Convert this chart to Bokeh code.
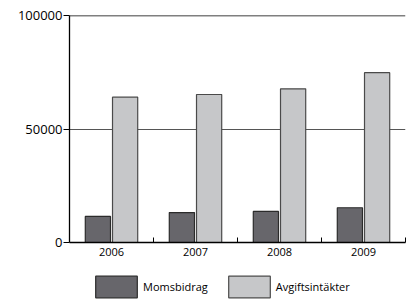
from bokeh.plotting import figure
from bokeh.models import (ColumnDataSource, FixedTicker, Span, Legend, LegendItem,
                          CustomJSTickFormatter)
from bokeh.layouts import column
from bokeh.embed import file_html
from bokeh.resources import INLINE

years = ["2006", "2007", "2008", "2009"]
momsbidrag = [11500, 13200, 13700, 15300]
avgiftsintakter = [64000, 65200, 67700, 74800]
y_ticks = [0, 50000, 100000]
series_names = ["Momsbidrag", "Avgiftsintäkter"]

DARK, LIGHT = "#67666b", "#c6c7c9"
EDGE1, EDGE2 = "#2b2b2b", "#4a4a4a"

x_pos = [i + 0.5 for i in range(len(years))]
bw = 0.30
gap = 0.012
src = ColumnDataSource(dict(
    x1=[x - bw / 2 - gap for x in x_pos],
    x2=[x + bw / 2 + gap for x in x_pos],
    m=momsbidrag, a=avgiftsintakter))

FONT = "Open Sans"
p = figure(width=411, height=262, output_backend="svg", toolbar_location=None,
           x_range=(0, len(years)), y_range=(0, 100000),
           min_border_left=69, min_border_right=6, min_border_top=15,
           min_border_bottom=20)
p.outline_line_color = None
p.background_fill_color = "white"

p.vbar(x="x1", width=bw, top="m", source=src, fill_color=DARK,
       line_color=EDGE1, line_width=1.2)
p.vbar(x="x2", width=bw, top="a", source=src, fill_color=LIGHT,
       line_color=EDGE2, line_width=1.2)

# grid
p.xgrid.grid_line_color = None
p.ygrid.ticker = FixedTicker(ticks=[50000])
p.ygrid.grid_line_color = "#555555"
p.ygrid.grid_line_width = 1.2
p.ygrid.level = "underlay"
p.add_layout(Span(location=y_ticks[-1], dimension="width", line_color="black",
                  line_width=1.3))

# y axis
p.yaxis.ticker = FixedTicker(ticks=y_ticks)
p.yaxis.major_tick_out = 6
p.yaxis.major_tick_in = 0
p.yaxis.minor_tick_line_color = None
p.yaxis.axis_line_color = "black"
p.yaxis.axis_line_width = 1.3
p.yaxis.major_tick_line_color = "black"
p.yaxis.major_label_text_font = FONT
p.yaxis.major_label_text_font_size = "13px"
p.yaxis.major_label_text_color = "black"
p.yaxis.major_label_standoff = 1
p.yaxis.formatter = CustomJSTickFormatter(code="return tick.toFixed(0);")

# x axis
p.xaxis.ticker = FixedTicker(ticks=x_pos, minor_ticks=[1, 2, 3, 4])
p.xaxis.major_label_overrides = {float(x): y for x, y in zip(x_pos, years)}
p.xaxis.major_tick_in = 0
p.xaxis.major_tick_out = 0
p.xaxis.minor_tick_in = 5
p.xaxis.minor_tick_out = 0
p.xaxis.minor_tick_line_color = "black"
p.xaxis.axis_line_color = "black"
p.xaxis.axis_line_width = 1.3
p.xaxis.major_label_text_font = FONT
p.xaxis.major_label_text_font_size = "11px"
p.xaxis.major_label_text_color = "black"
p.xaxis.major_label_standoff = 5

# legend strip
q = figure(width=411, height=38, output_backend="svg", toolbar_location=None,
           x_range=(0, 1), y_range=(0, 1), x_axis_location=None,
           y_axis_location=None, min_border=0)
q.outline_line_color = None
q.grid.visible = False
g1 = q.vbar(x=[-10], top=[0], width=0.1,
            fill_color=DARK, line_color=EDGE1, line_width=1.2)
g2 = q.vbar(x=[-10], top=[0], width=0.1,
            fill_color=LIGHT, line_color=EDGE2, line_width=1.2)
legend = Legend(items=[LegendItem(label=series_names[0], renderers=[g1]),
                       LegendItem(label=series_names[1], renderers=[g2])],
                orientation="horizontal", location=(21, 0),
                glyph_width=52, glyph_height=27, label_standoff=1,
                spacing=15, padding=0, margin=0,
                border_line_color=None, background_fill_alpha=0,
                label_text_font=FONT, label_text_font_size="11px",
                label_text_color="black", label_height=27)
q.add_layout(legend, "center")

layout = column(p, q, spacing=0)
open("out.html", "w").write(file_html(layout, INLINE))
